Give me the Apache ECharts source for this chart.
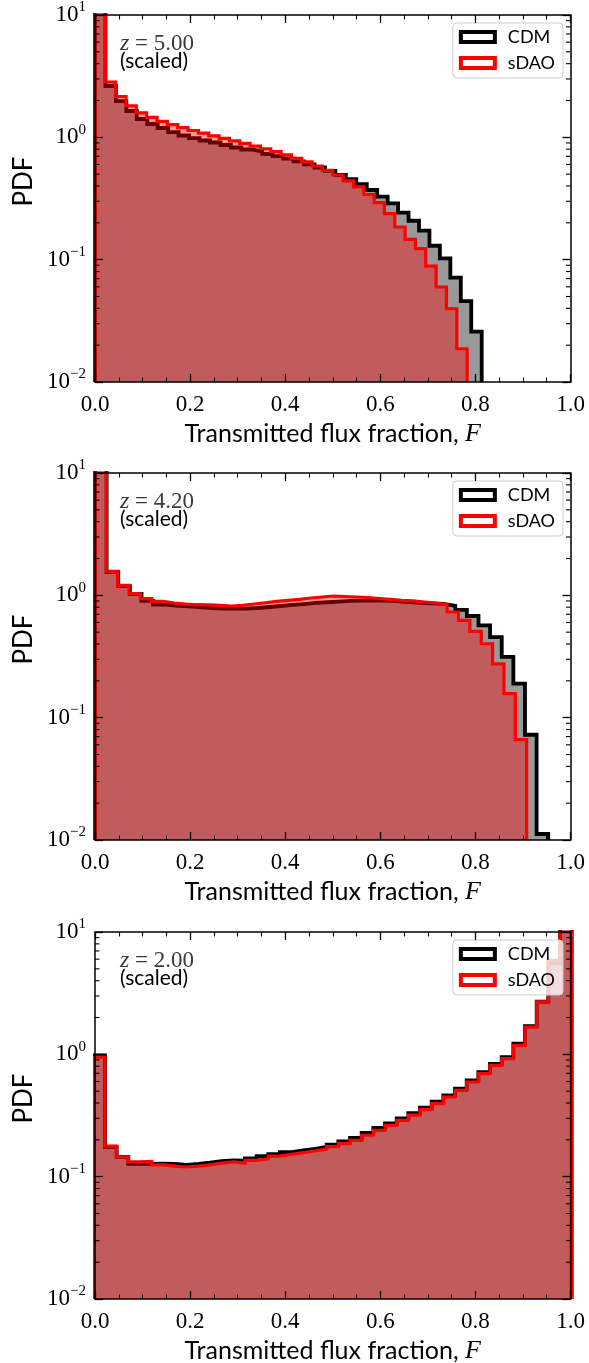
<!DOCTYPE html>
<html><head><meta charset="utf-8">
<script src="https://cdn.jsdelivr.net/npm/echarts@6/dist/echarts.min.js"></script>
<style>html,body{margin:0;padding:0;background:#fff}#c{width:589px;height:1363px}</style>
</head><body><div id="c"></div>
<script>
// ---- tick labels / categories ----
const xTickLabels = ['0.0', '0.2', '0.4', '0.6', '0.8', '1.0'];
const yMinorTicks = [0.02,0.03,0.04,0.05,0.06,0.07,0.08,0.09,0.2,0.3,0.4,0.5,0.6,0.7,0.8,0.9,2,3,4,5,6,7,8,9];
const redshifts = ['5.00', '4.20', '2.00'];
const seriesNames = ['CDM', 'sDAO'];

// ---- histogram bins: [first edge, bin width] ----
const z500_cdm_bins = [0, 0.02198];
const z500_sdao_bins = [0, 0.02174];
const z420_cdm_bins = [0, 0.02444];
const z420_sdao_bins = [0, 0.02389];
const z200_cdm_bins = [-0.0035, 0.024536];
const z200_sdao_bins = [-0.0035, 0.024536];

// ---- PDF values per bin ----
const z500_cdm = [15, 2.628, 1.98, 1.641, 1.412, 1.285, 1.192, 1.105, 1.035, 0.987, 0.942, 0.907, 0.866, 0.826, 0.795, 0.766, 0.733, 0.701, 0.669, 0.637, 0.602, 0.567, 0.531, 0.492, 0.456, 0.415, 0.371, 0.328, 0.289, 0.242, 0.208, 0.173, 0.130, 0.1025, 0.0713, 0.0459, 0.0258];
const z500_sdao = [15, 2.834, 2.157, 1.811, 1.587, 1.458, 1.352, 1.268, 1.199, 1.137, 1.081, 1.029, 0.982, 0.937, 0.894, 0.849, 0.807, 0.763, 0.720, 0.674, 0.629, 0.583, 0.536, 0.492, 0.440, 0.393, 0.341, 0.293, 0.2375, 0.185, 0.1467, 0.1229, 0.0887, 0.0598, 0.0397, 0.0187];
const z420_cdm = [15, 1.55, 1.19, 1.025, 0.9, 0.841, 0.823, 0.814, 0.803, 0.788, 0.78, 0.778, 0.778, 0.788, 0.803, 0.818, 0.834, 0.849, 0.866, 0.878, 0.89, 0.9, 0.905, 0.91, 0.905, 0.895, 0.88, 0.87, 0.86, 0.85, 0.82, 0.76, 0.678, 0.569, 0.456, 0.314, 0.19, 0.0725, 0.0112];
const z420_sdao = [15, 1.571, 1.208, 1.031, 0.939, 0.893, 0.866, 0.849, 0.838, 0.835, 0.829, 0.818, 0.829, 0.849, 0.87, 0.893, 0.91, 0.928, 0.951, 0.969, 0.987, 0.978, 0.969, 0.96, 0.942, 0.928, 0.91, 0.902, 0.882, 0.866, 0.838, 0.731, 0.625, 0.508, 0.402, 0.275, 0.157, 0.0662];
const z200_cdm = [0.98, 0.175, 0.145, 0.127, 0.127, 0.128, 0.127, 0.125, 0.127, 0.13, 0.134, 0.136, 0.135, 0.141, 0.147, 0.153, 0.159, 0.164, 0.169, 0.175, 0.183, 0.194, 0.207, 0.228, 0.25, 0.272, 0.30, 0.33, 0.366, 0.41, 0.462, 0.525, 0.612, 0.715, 0.835, 0.95, 1.22, 1.7, 2.7, 5.6, 15];
const z200_sdao = [0.95, 0.178, 0.145, 0.132, 0.133, 0.125, 0.122, 0.12, 0.122, 0.125, 0.129, 0.132, 0.129, 0.136, 0.14, 0.147, 0.152, 0.157, 0.162, 0.168, 0.176, 0.186, 0.198, 0.218, 0.239, 0.263, 0.289, 0.318, 0.353, 0.395, 0.448, 0.508, 0.594, 0.695, 0.813, 0.921, 1.185, 1.67, 2.68, 5.87, 15];

const panels = [
  {cdm: z500_cdm, cdmBins: z500_cdm_bins, sdao: z500_sdao, sdaoBins: z500_sdao_bins},
  {cdm: z420_cdm, cdmBins: z420_cdm_bins, sdao: z420_sdao, sdaoBins: z420_sdao_bins},
  {cdm: z200_cdm, cdmBins: z200_cdm_bins, sdao: z200_sdao, sdaoBins: z200_sdao_bins}
];

// ---- layout ----
const tops = [15, 473, 932];
const GL = 95, GW = 475.5, GH = 367;
const SERIF = 'Liberation Serif';
const SANS = 'Lato';
const YMIN = 0.01, YMAX = 10;

function stepPoints(bins, vals) {
  const s = bins[0], w = bins[1];
  const pts = [[s, YMIN]];
  vals.forEach((v, i) => { pts.push([s + i * w, v]); pts.push([s + (i + 1) * w, v]); });
  pts.push([s + vals.length * w, YMIN]);
  return pts;
}

const chart = echarts.init(document.getElementById('c'), null, {renderer: 'canvas'});

const grid = [], xAxis = [], yAxis = [], series = [], legend = [], graphic = [];
const axisLineStyle = {color: '#000', width: 1.5};

panels.forEach((p, i) => {
  grid.push({left: GL, top: tops[i], width: GW, height: GH, containLabel: false, outerBoundsMode: 'none'});
  const xBase = {
    type: 'value', gridIndex: i, min: 0, max: 1, interval: 0.2, z: 5,
    axisLine: {show: true, onZero: false, lineStyle: axisLineStyle},
    axisTick: {show: true, inside: true, length: 8, lineStyle: {color: '#000', width: 1.3}},
    minorTick: {show: true, splitNumber: 4, length: 4.5, lineStyle: {color: '#000', width: 1.1}},
    splitLine: {show: false}, minorSplitLine: {show: false}
  };
  xAxis.push(Object.assign({}, xBase, {
    position: 'bottom',
    axisLabel: {show: true, margin: 11, color: '#000', fontFamily: SERIF, fontSize: 23,
      formatter: v => xTickLabels[Math.round(v / 0.2)]},
    name: 'Transmitted flux fraction, {f|F}', nameLocation: 'middle', nameGap: 39,
    nameTextStyle: {color: '#000', fontFamily: SANS, fontSize: 25, verticalAlign: 'top',
      rich: {f: {fontFamily: SERIF, fontStyle: 'italic', fontSize: 26, color: '#000'}}}
  }));
  xAxis.push(Object.assign({}, xBase, {position: 'top', axisLabel: {show: false}}));

  const yBase = {
    type: 'log', logBase: 10, gridIndex: i, min: YMIN, max: YMAX, z: 5,
    axisLine: {show: true, onZero: false, lineStyle: axisLineStyle},
    axisTick: {show: true, inside: true, length: 8, lineStyle: {color: '#000', width: 1.3}},
    splitLine: {show: false}
  };
  yAxis.push(Object.assign({}, yBase, {
    position: 'left',
    axisLabel: {show: true, margin: 9, color: '#000',
      formatter: v => { const e = Math.round(Math.log10(v)); return '{b|10}{s|' + (e < 0 ? '\u2212' + (-e) : e) + '}'; },
      rich: {
        b: {fontFamily: SERIF, fontSize: 23, lineHeight: 30, color: '#000'},
        s: {fontFamily: SERIF, fontSize: 15, lineHeight: 13, verticalAlign: 'top', color: '#000'}
      }},
    name: 'PDF', nameLocation: 'middle', nameGap: 58, nameRotate: 90,
    nameTextStyle: {color: '#000', fontFamily: SANS, fontSize: 26, padding: [0, 0, 0, 34]}
  }));
  yAxis.push(Object.assign({}, yBase, {position: 'right', axisLabel: {show: false}}));

  series.push({
    name: seriesNames[0], type: 'line', xAxisIndex: 2 * i, yAxisIndex: 2 * i,
    data: stepPoints(p.cdmBins, p.cdm), showSymbol: false, symbol: 'none', clip: true,
    lineStyle: {color: '#000', width: 3.8, join: 'miter'},
    areaStyle: {color: 'rgba(0,0,0,0.4)', opacity: 1, origin: 'start'},
    itemStyle: {color: '#000'}, animation: false, silent: true, z: 2
  });
  series.push({
    name: seriesNames[1], type: 'line', xAxisIndex: 2 * i, yAxisIndex: 2 * i,
    data: stepPoints(p.sdaoBins, p.sdao), showSymbol: false, symbol: 'none', clip: true,
    lineStyle: {color: '#ff0000', width: 3.2, join: 'miter'},
    areaStyle: {color: 'rgba(255,0,0,0.4)', opacity: 1, origin: 'start'},
    itemStyle: {color: '#ff0000'}, animation: false, silent: true, z: 3
  });
  // minor log ticks on left and right spines
  series.push({
    type: 'custom', xAxisIndex: 2 * i, yAxisIndex: 2 * i, silent: true, z: 10, animation: false,
    data: yMinorTicks.map(v => [0, v]), encode: {x: 0, y: 1}, clip: false,
    renderItem: (params, api) => {
      const v = api.value(1);
      const pl = api.coord([0, v]), pr = api.coord([1, v]);
      const st = {stroke: '#000', lineWidth: 1.1};
      return {type: 'group', children: [
        {type: 'line', shape: {x1: pl[0], y1: pl[1], x2: pl[0] + 4.5, y2: pl[1]}, style: st},
        {type: 'line', shape: {x1: pr[0], y1: pr[1], x2: pr[0] - 4.5, y2: pr[1]}, style: st}
      ]};
    }
  });

  legend.push({
    data: [
      {name: 'CDM', icon: 'rect', itemStyle: {color: '#ffffff', borderColor: '#000', borderWidth: 4}},
      {name: 'sDAO', icon: 'rect', itemStyle: {color: '#ffffff', borderColor: '#ff0000', borderWidth: 4}}
    ],
    orient: 'vertical', right: 26, top: tops[i] + 8,
    itemWidth: 34, itemHeight: 10, itemGap: 8,
    backgroundColor: 'rgba(255,255,255,0.8)', borderColor: '#cccccc', borderWidth: 1, borderRadius: 4,
    padding: [5, 8, 6, 6], selectedMode: false,
    textStyle: {fontFamily: SANS, fontSize: 18, color: '#000', padding: [0, 0, 0, 8], lineHeight: 17}
  });

  graphic.push({
    type: 'text', left: 120, top: tops[i] + 17, z: 20,
    style: {text: '{i|z} = ' + redshifts[i], fill: '#3a3a3a', fontFamily: SERIF, fontSize: 23,
      rich: {i: {fontFamily: SERIF, fontStyle: 'italic', fontSize: 24, fill: '#3a3a3a'}}}
  });
  graphic.push({
    type: 'text', left: 120, top: tops[i] + 36, z: 20,
    style: {text: '(scaled)', fill: '#000', fontFamily: SANS, fontSize: 21}
  });
});

chart.setOption({
  animation: false,
  backgroundColor: '#fff',
  grid, xAxis, yAxis, series, legend, graphic
});
</script></body></html>
